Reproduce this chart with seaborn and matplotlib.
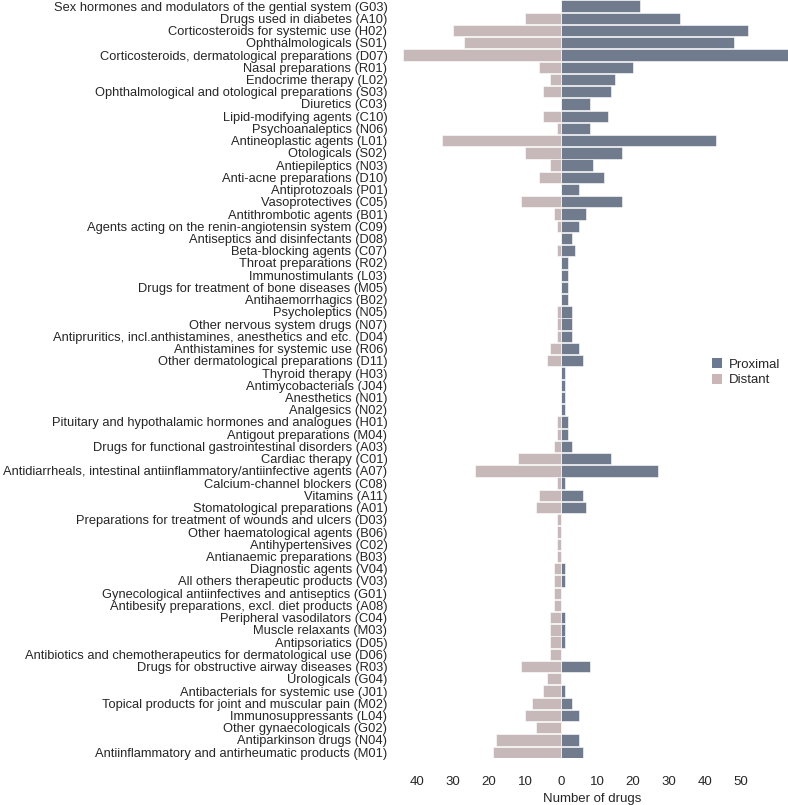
import numpy as np
import pandas as pd
import seaborn as sns
import matplotlib.pyplot as plt
from matplotlib.patches import Patch

categories = [
    "Sex hormones and modulators of the gential system (G03)",
    "Drugs used in diabetes (A10)",
    "Corticosteroids for systemic use (H02)",
    "Ophthalmologicals (S01)",
    "Corticosteroids, dermatological preparations (D07)",
    "Nasal preparations (R01)",
    "Endocrime therapy (L02)",
    "Ophthalmological and otological preparations (S03)",
    "Diuretics (C03)",
    "Lipid-modifying agents (C10)",
    "Psychoanaleptics (N06)",
    "Antineoplastic agents (L01)",
    "Otologicals (S02)",
    "Antiepileptics (N03)",
    "Anti-acne preparations (D10)",
    "Antiprotozoals (P01)",
    "Vasoprotectives (C05)",
    "Antithrombotic agents (B01)",
    "Agents acting on the renin-angiotensin system (C09)",
    "Antiseptics and disinfectants (D08)",
    "Beta-blocking agents (C07)",
    "Throat preparations (R02)",
    "Immunostimulants (L03)",
    "Drugs for treatment of bone diseases (M05)",
    "Antihaemorrhagics (B02)",
    "Psycholeptics (N05)",
    "Other nervous system drugs (N07)",
    "Antipruritics, incl.anthistamines, anesthetics and etc. (D04)",
    "Anthistamines for systemic use (R06)",
    "Other dermatological preparations (D11)",
    "Thyroid therapy (H03)",
    "Antimycobacterials (J04)",
    "Anesthetics (N01)",
    "Analgesics (N02)",
    "Pituitary and hypothalamic hormones and analogues (H01)",
    "Antigout preparations (M04)",
    "Drugs for functional gastrointestinal disorders (A03)",
    "Cardiac therapy (C01)",
    "Antidiarrheals, intestinal antiinflammatory/antiinfective agents (A07)",
    "Calcium-channel blockers (C08)",
    "Vitamins (A11)",
    "Stomatological preparations (A01)",
    "Preparations for treatment of wounds and ulcers (D03)",
    "Other haematological agents (B06)",
    "Antihypertensives (C02)",
    "Antianaemic preparations (B03)",
    "Diagnostic agents (V04)",
    "All others therapeutic products (V03)",
    "Gynecological antiinfectives and antiseptics (G01)",
    "Antibesity preparations, excl. diet products (A08)",
    "Peripheral vasodilators (C04)",
    "Muscle relaxants (M03)",
    "Antipsoriatics (D05)",
    "Antibiotics and chemotherapeutics for dermatological use (D06)",
    "Drugs for obstructive airway diseases (R03)",
    "Urologicals (G04)",
    "Antibacterials for systemic use (J01)",
    "Topical products for joint and muscular pain (M02)",
    "Immunosuppressants (L04)",
    "Other gynaecologicals (G02)",
    "Antiparkinson drugs (N04)",
    "Antiinflammatory and antirheumatic products (M01)",
]

proximal = [22, 33, 52, 48, 63, 20, 15, 14, 8, 13,
            8, 43, 17, 9, 12, 5, 17, 7, 5, 3,
            4, 2, 2, 2, 2, 3, 3, 3, 5, 6,
            1, 1, 1, 1, 2, 2, 3, 14, 27, 1,
            6, 7, 0, 0, 0, 0, 1, 1, 0, 0,
            1, 1, 1, 0, 8, 0, 1, 3, 5, 0,
            5, 6]

distant = [0, 10, 30, 27, 44, 6, 3, 5, 0, 5,
           1, 33, 10, 3, 6, 0, 11, 2, 1, 0,
           1, 0, 0, 0, 0, 1, 1, 1, 3, 4,
           0, 0, 0, 0, 1, 1, 2, 12, 24, 1,
           6, 7, 1, 1, 1, 1, 2, 2, 2, 2,
           3, 3, 3, 3, 11, 4, 5, 8, 10, 7,
           18, 19]

x_ticks = [-40, -30, -20, -10, 0, 10, 20, 30, 40, 50]

groups = ["Proximal", "Distant"]
colors = {"Proximal": "#6b7a92", "Distant": "#cab5b7"}

df = pd.concat([
    pd.DataFrame({"category": categories, "value": proximal, "group": "Proximal"}),
    pd.DataFrame({"category": categories, "value": -np.array(distant), "group": "Distant"}),
])

sns.set_style("white")
plt.rcParams["font.family"] = ["Liberation Sans", "DejaVu Sans"]

fig = plt.figure(figsize=(7.88, 8.05), dpi=100)
ax = fig.add_axes([0.504, 0.058, 0.496, 0.942])

sns.barplot(
    data=df, y="category", x="value", hue="group",
    hue_order=groups, palette=colors, order=categories,
    dodge=False, width=0.92, orient="h",
    edgecolor="white", linewidth=0.4, ax=ax,
)

ax.set_xlim(-45.5, 63)
ax.set_ylim(len(categories) - 0.5, -0.5)
ax.set_xticks(x_ticks)
ax.set_xticklabels([str(abs(t)) for t in x_ticks])
ax.tick_params(axis="x", length=0, pad=13, labelsize=9.5)
ax.tick_params(axis="y", length=0, pad=7, labelsize=9.25)
ax.set_ylabel("")
ax.set_xlabel("Number of drugs", fontsize=9.5, labelpad=3)
for s in ax.spines.values():
    s.set_visible(False)
ax.grid(False)

ax.legend_.remove()
handles = [Patch(facecolor=colors[g], edgecolor="none") for g in groups]
fig.legend(handles, groups, loc="upper left", bbox_to_anchor=(0.895, 0.563),
           frameon=False, fontsize=9.5, handlelength=0.8, handleheight=0.8,
           handletextpad=0.5, labelspacing=0.2, borderpad=0)

fig.savefig("out.png", dpi=100)
